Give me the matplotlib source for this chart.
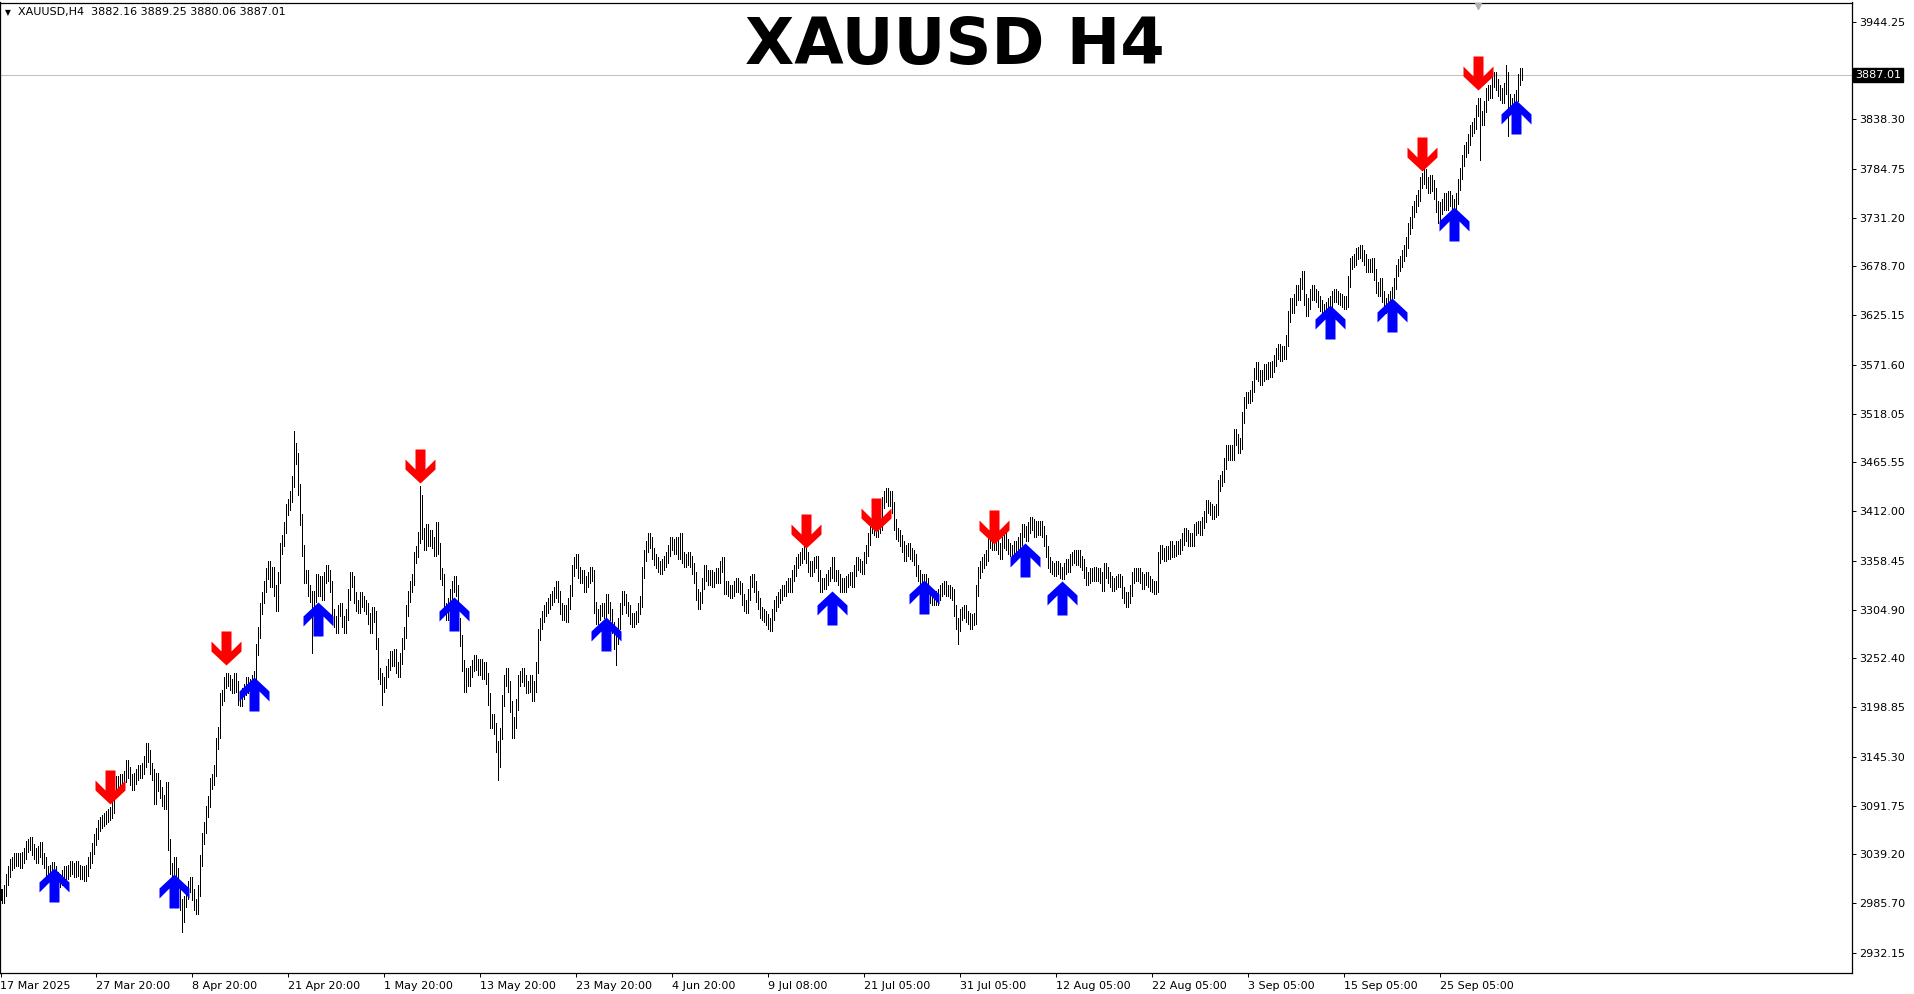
import numpy as np
import matplotlib
matplotlib.use('Agg')
import matplotlib.pyplot as plt
import matplotlib.transforms as mtransforms
from matplotlib.path import Path

# H4 closes, one per bar (17 Mar 2025 -> 1 Oct 2025)
closes = [
    2995, 2992, 3000, 3012, 3020, 3028, 3030, 3035, 3032, 3034,
    3030, 3036, 3040, 3048, 3050, 3052, 3044, 3040, 3036, 3042,
    3046, 3035, 3030, 3020, 3018, 3022, 3025, 3020, 3014, 3010,
    3012, 3016, 3020, 3018, 3022, 3026, 3024, 3020, 3026, 3022,
    3018, 3020, 3016, 3022, 3030, 3036, 3045, 3055, 3062, 3070,
    3074, 3076, 3078, 3080, 3082, 3085, 3090, 3112, 3118, 3114,
    3120, 3116, 3124, 3136, 3128, 3120, 3115, 3122, 3126, 3130,
    3128, 3132, 3140, 3154, 3146, 3132, 3126, 3100, 3122, 3114,
    3106, 3098, 3094, 3112, 3050, 3024, 3008, 3030, 3018, 3004,
    2984, 2972, 2988, 2996, 3004, 3008, 2995, 2984, 2980, 3000,
    3032, 3056, 3068, 3086, 3096, 3116, 3120, 3130, 3160, 3172,
    3208, 3212, 3226, 3230, 3228, 3224, 3220, 3230, 3222, 3208,
    3206, 3214, 3218, 3226, 3220, 3224, 3228, 3232, 3262, 3280,
    3306, 3318, 3330, 3344, 3352, 3336, 3346, 3326, 3310, 3340,
    3372, 3380, 3395, 3414, 3420, 3428, 3445, 3480, 3470, 3436,
    3403, 3370, 3340, 3342, 3326, 3320, 3294, 3320, 3338, 3326,
    3336, 3322, 3340, 3348, 3342, 3330, 3300, 3292, 3286, 3304,
    3306, 3292, 3286, 3300, 3322, 3340, 3336, 3318, 3310, 3308,
    3318, 3314, 3310, 3306, 3296, 3286, 3302, 3298, 3268, 3236,
    3230, 3222, 3226, 3238, 3246, 3254, 3250, 3256, 3242, 3238,
    3252, 3268, 3280, 3304, 3320, 3330, 3338, 3362, 3368, 3384,
    3424, 3388, 3376, 3392, 3380, 3386, 3378, 3370, 3394, 3372,
    3345, 3338, 3306, 3300, 3312, 3322, 3330, 3336, 3326, 3290,
    3272, 3244, 3222, 3236, 3228, 3238, 3244, 3250, 3246, 3240,
    3246, 3236, 3242, 3230, 3208, 3182, 3186, 3176, 3156, 3140,
    3170, 3206, 3228, 3236, 3222, 3200, 3172, 3182, 3202, 3228,
    3232, 3236, 3228, 3220, 3222, 3228, 3212, 3222, 3242, 3278,
    3290, 3298, 3304, 3308, 3312, 3316, 3320, 3324, 3330, 3320,
    3306, 3300, 3304, 3298, 3312, 3326, 3348, 3356, 3360, 3346,
    3340, 3342, 3330, 3336, 3340, 3346, 3342, 3308, 3296, 3300,
    3304, 3306, 3302, 3316, 3308, 3300, 3286, 3268, 3274, 3290,
    3306, 3320, 3316, 3308, 3304, 3296, 3292, 3296, 3298, 3306,
    3314, 3346, 3364, 3374, 3382, 3378, 3366, 3360, 3356, 3352,
    3350, 3354, 3358, 3362, 3370, 3378, 3376, 3372, 3378, 3366,
    3382, 3362, 3358, 3360, 3362, 3358, 3350, 3340, 3322, 3312,
    3318, 3334, 3348, 3342, 3338, 3342, 3336, 3340, 3345, 3340,
    3352, 3356, 3328, 3330, 3326, 3324, 3326, 3330, 3334, 3330,
    3328, 3316, 3310, 3308, 3322, 3336, 3338, 3330, 3320, 3312,
    3302, 3300, 3298, 3294, 3290, 3288, 3300, 3310, 3314, 3318,
    3322, 3326, 3326, 3330, 3334, 3330, 3342, 3348, 3356, 3360,
    3362, 3366, 3370, 3362, 3352, 3348, 3352, 3356, 3358, 3342,
    3330, 3334, 3334, 3338, 3342, 3346, 3356, 3342, 3342, 3338,
    3330, 3334, 3330, 3336, 3338, 3340, 3336, 3348, 3356, 3354,
    3352, 3350, 3362, 3370, 3382, 3394, 3396, 3392, 3390, 3394,
    3398, 3422, 3428, 3432, 3424, 3428, 3416, 3398, 3388, 3386,
    3380, 3374, 3364, 3370, 3372, 3366, 3364, 3360, 3348, 3342,
    3338, 3336, 3338, 3334, 3324, 3318, 3316, 3320, 3316, 3322,
    3326, 3328, 3330, 3326, 3326, 3324, 3322, 3304, 3290, 3288,
    3300, 3302, 3304, 3298, 3296, 3290, 3294, 3296, 3326, 3346,
    3352, 3356, 3360, 3364, 3378, 3380, 3376, 3382, 3376, 3372,
    3366, 3378, 3384, 3376, 3372, 3370, 3368, 3374, 3370, 3378,
    3382, 3392, 3390, 3386, 3394, 3400, 3398, 3390, 3396, 3392,
    3396, 3390, 3380, 3368, 3356, 3352, 3350, 3348, 3352, 3350,
    3346, 3344, 3350, 3354, 3352, 3360, 3362, 3364, 3360, 3364,
    3358, 3354, 3346, 3338, 3340, 3344, 3342, 3346, 3342, 3344,
    3340, 3332, 3350, 3346, 3340, 3336, 3332, 3334, 3336, 3338,
    3336, 3324, 3318, 3314, 3318, 3326, 3340, 3344, 3342, 3344,
    3340, 3334, 3338, 3340, 3336, 3332, 3330, 3328, 3330, 3362,
    3370, 3366, 3364, 3368, 3366, 3374, 3368, 3370, 3374, 3372,
    3376, 3382, 3388, 3386, 3380, 3382, 3380, 3392, 3394, 3396,
    3392, 3400, 3406, 3418, 3416, 3414, 3410, 3412, 3414, 3440,
    3446, 3450, 3464, 3478, 3474, 3478, 3474, 3496, 3490, 3482,
    3486, 3514, 3530, 3536, 3536, 3538, 3548, 3562, 3568, 3560,
    3556, 3560, 3566, 3562, 3568, 3564, 3570, 3576, 3584, 3588,
    3582, 3586, 3584, 3598, 3624, 3638, 3634, 3642, 3652, 3648,
    3660, 3668, 3642, 3630, 3638, 3648, 3652, 3648, 3646, 3640,
    3636, 3632, 3630, 3634, 3638, 3640, 3646, 3648, 3646, 3644,
    3642, 3640, 3638, 3640, 3662, 3682, 3684, 3686, 3692, 3694,
    3696, 3690, 3686, 3678, 3680, 3678, 3682, 3670, 3656, 3652,
    3660, 3646, 3638, 3634, 3642, 3646, 3650, 3660, 3674, 3680,
    3684, 3690, 3696, 3704, 3720, 3726, 3738, 3744, 3750, 3756,
    3770, 3774, 3778, 3770, 3764, 3772, 3766, 3758, 3744, 3732,
    3742, 3746, 3752, 3746, 3754, 3750, 3746, 3742, 3752, 3768,
    3780, 3794, 3804, 3808, 3816, 3826, 3830, 3834, 3848, 3856,
    3842, 3838, 3852, 3866, 3870, 3868, 3880, 3884, 3876, 3870,
    3866, 3862, 3872, 3884, 3860, 3852, 3856, 3860, 3864, 3882,
    3888, 3887.01,
]

# bars with long wicks (nan = normal)
wick_bars = [91, 147, 156, 191, 210, 249, 308, 479, 740, 753, 754]
wick_highs = [np.nan, 3499, np.nan, np.nan, 3440, np.nan, np.nan, np.nan, np.nan, 3898, np.nan]
wick_lows = [2955, np.nan, 3258, 3201, np.nan, 3120, 3245, 3268, 3794, np.nan, 3820]

sell_bars = [55, 113, 210, 403, 438, 497, 711, 739]
sell_prices = [3094, 3245, 3443, 3372, 3390, 3377, 3782, 3870]
buy_bars = [27, 87, 127, 159, 227, 303, 416, 462, 512, 531, 665, 696, 727, 758]
buy_prices = [3024, 3018, 3232, 3313, 3319, 3297, 3325, 3337, 3378, 3336, 3636, 3644, 3743, 3859]

date_labels = ['17 Mar 2025', '27 Mar 20:00', '8 Apr 20:00', '21 Apr 20:00', '1 May 20:00',
               '13 May 20:00', '23 May 20:00', '4 Jun 20:00', '9 Jul 08:00', '21 Jul 05:00',
               '31 Jul 05:00', '12 Aug 05:00', '22 Aug 05:00', '3 Sep 05:00', '15 Sep 05:00',
               '25 Sep 05:00']
label_step = 48

price_ticks = [3944.25, 3838.30, 3784.75, 3731.20, 3678.70, 3625.15, 3571.60, 3518.05,
               3465.55, 3412.00, 3358.45, 3304.90, 3252.40, 3198.85, 3145.30, 3091.75,
               3039.20, 2985.70, 2932.15]
last_price = 3887.01
info_text = 'XAUUSD,H4  3882.16 3889.25 3880.06 3887.01'

# OHLC from closes
c = np.array(closes, dtype=float)
o = np.r_[c[0], c[:-1]]
wick = 6
hi = np.maximum(o, c) + wick
lo = np.minimum(o, c) - wick
for b, h, l in zip(wick_bars, wick_highs, wick_lows):
    if not np.isnan(h):
        hi[b] = h
    if not np.isnan(l):
        lo[b] = l
x = np.arange(len(c))

W, H, DPI = 1915, 994, 100
fig = plt.figure(figsize=(W / DPI, H / DPI), dpi=DPI, facecolor='white')
ax_right, ax_bottom, ax_top = 1852, 973, 2.5
ax = fig.add_axes([0, (H - ax_bottom) / H, ax_right / W, (ax_bottom - ax_top) / H])
ax.set_facecolor('white')

ax.vlines(x, lo, hi, colors='black', linewidth=0.72, antialiased=False, zorder=2)

ax.set_xlim(-0.25, ax_right / 2 - 0.25)
ax.set_ylim(2910.0, 3965.5)

ax.axhline(last_price, color='#c0c0c0', linewidth=0.75, zorder=1)

# MT4 style thick arrows, tip at (0, 0), units are pixels
up_verts = [(0, 0), (-15, -14), (-15, -24), (-5, -14), (-5, -34), (5, -34), (5, -14),
            (15, -24), (15, -14), (0, 0)]
down_verts = [(vx, -vy) for vx, vy in up_verts]
up_arrow = Path(up_verts, closed=True)
down_arrow = Path(down_verts, closed=True)
ms = 2 * 34 * 72 / DPI
ax.plot(buy_bars, buy_prices, linestyle='none', marker=up_arrow, markersize=ms,
        color='#0000ff', markeredgewidth=0, zorder=3)
ax.plot(sell_bars, sell_prices, linestyle='none', marker=down_arrow, markersize=ms,
        color='#ff0000', markeredgewidth=0, zorder=3)

for s in ax.spines.values():
    s.set_color('black')
    s.set_linewidth(0.9)

ax.yaxis.tick_right()
ax.set_yticks(price_ticks, labels=[f'{p:.2f}' for p in price_ticks])
ax.set_xticks(np.arange(len(date_labels)) * label_step, labels=date_labels)
for lab in ax.get_xticklabels():
    lab.set_horizontalalignment('left')
ax.tick_params(axis='both', direction='out', length=3, width=0.7, colors='black',
               labelsize=8, pad=2)
ax.tick_params(axis='x', pad=3)

# current price tag
trans = mtransforms.blended_transform_factory(ax.transAxes, ax.transData)
ax.text(1.0015, last_price, f'{last_price:.2f}', transform=trans, ha='left', va='center',
        fontsize=8, color='white', zorder=5, clip_on=False,
        bbox=dict(boxstyle='square,pad=0.18', facecolor='black', edgecolor='black'))

# shift marker at the top
trans2 = mtransforms.blended_transform_factory(ax.transData, ax.transAxes)
ax.plot([738.75], [0.996], marker='v', markersize=5, color='#b0b0b0', transform=trans2,
        clip_on=False, zorder=4)

fig.text(955 / W, 1 - 63.5 / H, 'XAUUSD H4', ha='center', va='baseline', fontsize=46,
         fontweight='bold', color='black')
fig.text(5 / W, 1 - 15.5 / H, '\u25bc', ha='left', va='baseline', fontsize=5.5, color='black')
fig.text(18 / W, 1 - 15.5 / H, info_text, ha='left', va='baseline', fontsize=8, color='black')

fig.savefig('out.png', dpi=DPI, facecolor='white')
